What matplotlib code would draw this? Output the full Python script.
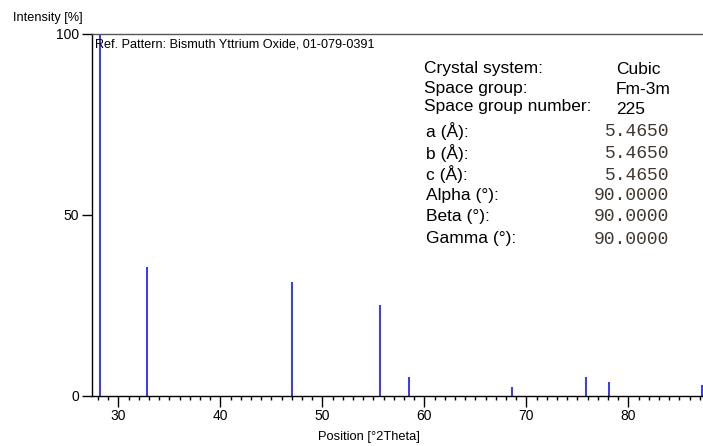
import matplotlib
matplotlib.use("Agg")
import matplotlib.pyplot as plt
from matplotlib.ticker import MultipleLocator

# Reference pattern peaks: position [°2Theta] and relative intensity [%]
peak_positions = [28.21, 32.81, 47.01, 55.63, 58.51, 68.56, 75.84, 78.13, 87.25]
peak_intensities = [100.0, 35.4, 31.3, 25.1, 5.3, 2.5, 5.3, 3.9, 2.9]

x_ticks = [30, 40, 50, 60, 70, 80]
y_ticks = [0, 50, 100]

pattern_title = "Ref. Pattern: Bismuth Yttrium Oxide, 01-079-0391"

info_labels = ["Crystal system:", "Space group:", "Space group number:"]
info_values = ["Cubic", "Fm-3m", "225"]

cell_labels = ["a (Å):", "b (Å):", "c (Å):", "Alpha (°):", "Beta (°):", "Gamma (°):"]
cell_values = ["5.4650", "5.4650", "5.4650", "90.0000", "90.0000", "90.0000"]

W, H = 703, 446
plt.rcParams["font.family"] = ["Liberation Sans", "DejaVu Sans"]
fig = plt.figure(figsize=(W / 100, H / 100), dpi=100)


def fx(px):
    return px / W


def fy(py):
    return 1 - py / H


left, right, top, bottom = 91.7, 703.0, 33.5, 395.7
ax = fig.add_axes([fx(left), fy(bottom), fx(right) - fx(left), fy(top) - fy(bottom)])

ax.vlines(peak_positions, 0, peak_intensities, colors="#0000ff", linewidth=1.1)

ax.set_xlim(27.39, 87.32)
ax.set_ylim(0, 100)
ax.set_xticks(x_ticks)
ax.set_yticks(y_ticks)
ax.xaxis.set_minor_locator(MultipleLocator(1))

ax.spines["right"].set_visible(False)
for s in ("left", "bottom"):
    ax.spines[s].set_color("#000000")
    ax.spines[s].set_linewidth(1.0)
ax.spines["top"].set_color("#555555")
ax.spines["top"].set_linewidth(1.0)

ax.tick_params(axis="x", which="major", direction="out", length=8, width=1.0,
               pad=1.5, labelsize=10)
ax.tick_params(axis="x", which="minor", direction="out", length=3, width=1.0)
ax.tick_params(axis="y", which="major", direction="out", length=7, width=1.0,
               pad=2, labelsize=10)

ax.text(0.005, 0.985, pattern_title, transform=ax.transAxes, ha="left", va="top",
        fontsize=9.1)

fig.text(fx(47.5), fy(18), "Intensity [%]", ha="center", va="center", fontsize=9.2)
fig.text(fx(369), fy(437), "Position [°2Theta]", ha="center", va="center",
         fontsize=9.3)

info_y = [68, 88, 107]
for lab, val, y in zip(info_labels, info_values, info_y):
    fig.text(fx(424), fy(y), lab, ha="left", va="center", fontsize=12.5)
    fig.text(fx(616), fy(y + 2), val, ha="left", va="center", fontsize=12.5)

cell_y = [131, 153, 174, 195, 216, 238]
for lab, val, y in zip(cell_labels, cell_values, cell_y):
    fig.text(fx(426), fy(y), lab, ha="left", va="center", fontsize=12.5)
    fig.text(fx(669), fy(y + 1), val, ha="right", va="center", fontsize=13,
             family="Liberation Mono", color="#403830")

fig.savefig("out.png", dpi=100)
